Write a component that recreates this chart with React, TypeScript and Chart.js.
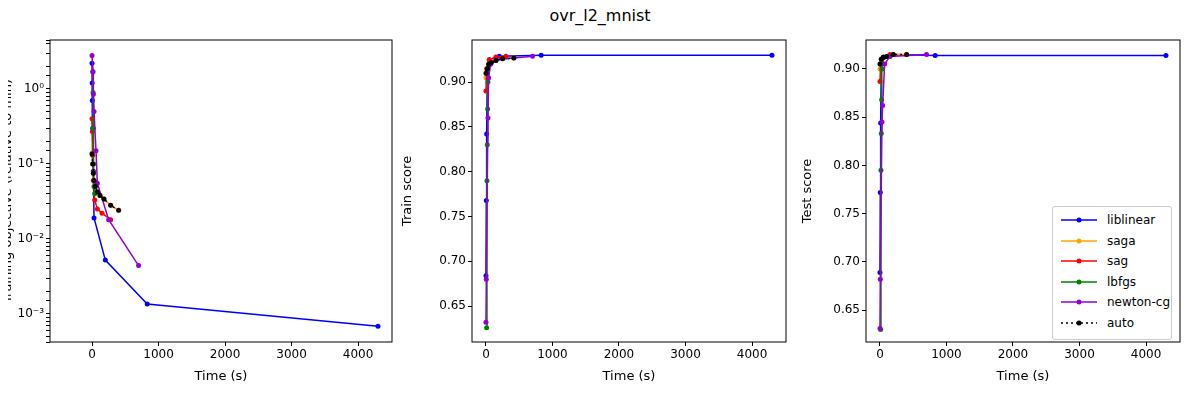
import { useEffect, useRef } from 'react';
import { Chart, registerables } from 'chart.js';

Chart.register(...registerables);

const names = ['liblinear', 'saga', 'sag', 'lbfgs', 'newton-cg', 'auto'];
const colors = ['#0000ff', '#ffa500', '#ff0000', '#008000', '#9400d3', '#000000'];

type P = [number, number];

// training objective (relative to min)
const objLiblinear: P[] = [[0, 2.2], [2, 1.2], [5, 0.7], [10, 0.3], [20, 0.08], [30, 0.019], [200, 0.0052], [830, 0.00135], [4300, 0.00068]];
const objSaga: P[] = [[0, 0.14], [10, 0.1], [20, 0.075], [30, 0.06], [50, 0.05], [80, 0.042], [120, 0.038], [180, 0.034], [280, 0.028], [400, 0.024]];
const objSag: P[] = [[0, 0.4], [5, 0.27], [10, 0.13], [20, 0.06], [40, 0.033], [80, 0.025], [150, 0.022], [280, 0.018]];
const objLbfgs: P[] = [[10, 1.7], [15, 0.9], [20, 0.3], [25, 0.1], [30, 0.05], [40, 0.04]];
const objNewton: P[] = [[0, 2.8], [15, 1.7], [20, 0.85], [30, 0.5], [60, 0.15], [80, 0.055], [250, 0.018], [700, 0.0044]];
const objAuto: P[] = [[0, 0.135], [10, 0.1], [20, 0.075], [30, 0.06], [50, 0.05], [80, 0.042], [120, 0.038], [180, 0.034], [280, 0.028], [400, 0.024]];

// train score
const trainLiblinear: P[] = [[0, 0.684], [5, 0.768], [10, 0.842], [20, 0.91], [50, 0.925], [200, 0.929], [830, 0.93], [4300, 0.93]];
const trainSaga: P[] = [[0, 0.905], [20, 0.915], [40, 0.92], [80, 0.922], [150, 0.924], [250, 0.926], [420, 0.927]];
const trainSag: P[] = [[0, 0.89], [10, 0.915], [50, 0.925], [150, 0.928], [300, 0.929]];
const trainLbfgs: P[] = [[10, 0.626], [15, 0.79], [20, 0.83], [25, 0.87], [30, 0.9], [60, 0.92]];
const trainNewton: P[] = [[0, 0.632], [5, 0.68], [30, 0.86], [40, 0.905], [70, 0.92], [150, 0.925], [700, 0.929]];
const trainAuto: P[] = [[0, 0.91], [20, 0.915], [40, 0.92], [80, 0.922], [150, 0.924], [250, 0.926], [420, 0.927]];

// test score
const testLiblinear: P[] = [[0, 0.689], [5, 0.772], [10, 0.844], [20, 0.905], [50, 0.912], [200, 0.915], [830, 0.914], [4300, 0.914]];
const testSaga: P[] = [[0, 0.9], [20, 0.91], [50, 0.912], [100, 0.913], [200, 0.915], [400, 0.915]];
const testSag: P[] = [[0, 0.887], [10, 0.905], [50, 0.912], [150, 0.915]];
const testLbfgs: P[] = [[10, 0.63], [15, 0.795], [20, 0.833], [25, 0.868], [30, 0.9], [60, 0.912]];
const testNewton: P[] = [[0, 0.631], [5, 0.682], [30, 0.845], [40, 0.862], [70, 0.905], [150, 0.913], [700, 0.915]];
const testAuto: P[] = [[0, 0.905], [20, 0.91], [50, 0.912], [100, 0.913], [200, 0.915], [400, 0.915]];

const objSeries = [objLiblinear, objSaga, objSag, objLbfgs, objNewton, objAuto];
const trainSeries = [trainLiblinear, trainSaga, trainSag, trainLbfgs, trainNewton, trainAuto];
const testSeries = [testLiblinear, testSaga, testSag, testLbfgs, testNewton, testAuto];

const FONT = 'DejaVu Sans';

const frame = {
  id: 'frame',
  afterDraw(chart: Chart) {
    const { ctx, chartArea: a } = chart;
    ctx.save();
    ctx.strokeStyle = '#000';
    ctx.lineWidth = 1;
    ctx.strokeRect(a.left, a.top, a.right - a.left, a.bottom - a.top);
    ctx.restore();
  },
};

const supers: Record<string, string> = { '-': '⁻', '0': '⁰', '1': '¹', '2': '²', '3': '³' };

interface PanelProps {
  series: P[][];
  log?: boolean;
  yMin: number;
  yMax: number;
  xMin: number;
  yTitle: string;
  yWidth: number;
  padRight: number;
  left: number;
}

const Panel = ({ series, log, yMin, yMax, xMin, yTitle, yWidth, padRight, left }: PanelProps) => {
  const ref = useRef<HTMLCanvasElement>(null);
  useEffect(() => {
    if (!ref.current) return;
    const tickStyle = { color: '#000', font: { family: FONT, size: 12 }, padding: 2 };
    const chart = new Chart(ref.current, {
      type: 'line',
      data: {
        datasets: series.map((s, i) => ({
          label: names[i],
          data: s.map(([x, y]) => ({ x, y })),
          borderColor: colors[i],
          backgroundColor: colors[i],
          borderWidth: 1.5,
          borderDash: i === 5 ? [2, 3] : [],
          pointRadius: 2.5,
          pointBorderWidth: 0,
          order: 6 - i,
        })),
      },
      options: {
        animation: false,
        responsive: false,
        layout: { padding: { top: 40, right: padRight, left: 0, bottom: 16 } },
        plugins: { legend: { display: false }, tooltip: { enabled: false } },
        scales: {
          x: {
            type: 'linear',
            min: xMin,
            max: 4511,
            afterFit: (s: any) => { s.height = 42; },
            afterBuildTicks: (s: any) => { s.ticks = [0, 1000, 2000, 3000, 4000].map((v) => ({ value: v })); },
            ticks: { ...tickStyle, callback: (v: any) => String(v) },
            grid: { drawOnChartArea: false, tickLength: 4, color: '#000' },
            border: { display: false },
            title: { display: true, text: 'Time (s)', color: '#000', font: { family: FONT, size: 13 }, padding: { top: 4, bottom: 0 } },
          },
          y: {
            type: log ? 'logarithmic' : 'linear',
            min: yMin,
            max: yMax,
            afterFit: (s: any) => { s.width = yWidth; },
            afterBuildTicks: log ? undefined : (s: any) => {
              s.ticks = [0.65, 0.7, 0.75, 0.8, 0.85, 0.9].map((v) => ({ value: v }));
            },
            ticks: {
              ...tickStyle,
              autoSkip: false,
              callback: (v: any) => {
                if (!log) return Number(v).toFixed(2);
                const e = Math.log10(Number(v));
                if (Math.abs(e - Math.round(e)) > 1e-6) return '';
                return '10' + String(Math.round(e)).split('').map((c) => supers[c]).join('');
              },
            },
            grid: { drawOnChartArea: false, tickLength: 4, color: '#000' },
            border: { display: false },
            title: { display: true, text: yTitle, color: '#000', font: { family: FONT, size: 13 }, padding: { top: 0, bottom: 2 } },
          },
        },
      },
      plugins: [frame],
    });
    return () => chart.destroy();
  }, []);
  return <canvas ref={ref} width={400} height={400} style={{ position: 'absolute', left, top: 0 }} />;
};

export default function App() {
  return (
    <div style={{ position: 'relative', width: 1200, height: 400, background: '#fff', margin: -8, fontFamily: FONT }}>
      <div style={{ position: 'absolute', top: 6, width: 1200, textAlign: 'center', fontSize: 16 }}>ovr_l2_mnist</div>
      <Panel series={objSeries} log yMin={0.00042} yMax={4.5} xMin={-632} yTitle="Training objective (relative to min)" yWidth={50} padRight={8} left={0} />
      <Panel series={trainSeries} yMin={0.61} yMax={0.947} xMin={-210} yTitle="Train score" yWidth={72} padRight={14} left={400} />
      <Panel series={testSeries} yMin={0.617} yMax={0.93} xMin={-210} yTitle="Test score" yWidth={66} padRight={20} left={800} />
      <div style={{ position: 'absolute', left: 1052, top: 206, width: 118, height: 126, border: '1px solid #ccc', borderRadius: 3, background: '#fff', fontSize: 12, padding: '3px 0' }}>
        {names.map((n, i) => (
          <div key={n} style={{ display: 'flex', alignItems: 'center', height: 20.5 }}>
            <svg width={40} height={10} style={{ marginLeft: 6, marginRight: 8 }}>
              <line x1={2} y1={5} x2={38} y2={5} stroke={colors[i]} strokeWidth={1.5} strokeDasharray={i === 5 ? '2 3' : undefined} />
              <circle cx={20} cy={5} r={2.5} fill={colors[i]} />
            </svg>
            <span>{n}</span>
          </div>
        ))}
      </div>
    </div>
  );
}
